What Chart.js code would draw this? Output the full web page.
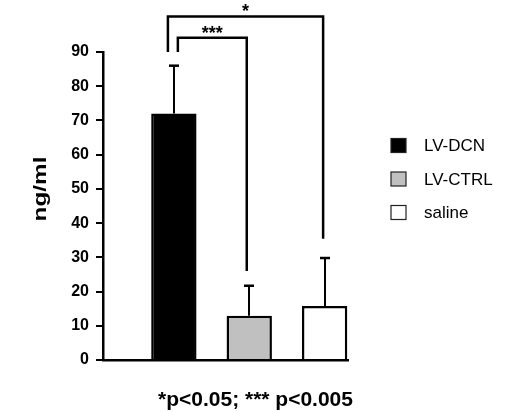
<!DOCTYPE html>
<html>
<head>
<meta charset="utf-8">
<script src="https://cdn.jsdelivr.net/npm/chart.js@4/dist/chart.umd.min.js"></script>
<style>
html,body{margin:0;padding:0;background:#ffffff;}
#wrap{width:520px;height:411px;}
</style>
</head>
<body>
<div id="wrap"><canvas id="c" width="520" height="411"></canvas></div>
<script>
// ---- data ----
const categories = ['LV-DCN', 'LV-CTRL', 'saline'];
const means = [72, 12.9, 15.8];
const errors = [14, 8.8, 14];
const yTicks = [0, 10, 20, 30, 40, 50, 60, 70, 80, 90];
const yTitle = 'ng/ml';
const footnote = '*p<0.05; *** p<0.005';
// significance comparisons (group indices) and their labels
const sigPairs = [[0, 1], [0, 2]];
const sigLabels = ['***', '*'];
const sigLevels = [94.2, 100.4];          // height of bracket (ng/ml)
const sigLegEnds = [[90, 26], [90, 35.4]]; // lower ends of the bracket legs (ng/ml)

// ---- styles ----
const fills = ['#000000', '#c0c0c0', '#ffffff'];
const FONT = "'Liberation Sans', Arial, Helvetica, sans-serif";
const sigXOffsets = [[0.053, -0.033], [-0.079, -0.02]]; // leg offsets from group centre (x units)

const annot = {
  id: 'annot',
  afterDatasetsDraw(chart) {
    const ctx = chart.ctx, xs = chart.scales.x, ys = chart.scales.y;
    ctx.save();
    ctx.strokeStyle = '#000';
    ctx.fillStyle = '#000';
    ctx.lineCap = 'butt';
    ctx.lineJoin = 'miter';
    // upper error bars
    means.forEach((m, i) => {
      const px = Math.round(xs.getPixelForValue(i));
      const y0 = ys.getPixelForValue(m);
      const y1 = ys.getPixelForValue(m + errors[i]);
      ctx.lineWidth = 2;
      ctx.beginPath(); ctx.moveTo(px, y0); ctx.lineTo(px, y1); ctx.stroke();
      ctx.lineWidth = 2.5;
      ctx.beginPath(); ctx.moveTo(px - 5, y1); ctx.lineTo(px + 5, y1); ctx.stroke();
    });
    // significance brackets
    sigPairs.forEach((p, k) => {
      const xa = xs.getPixelForValue(p[0] + sigXOffsets[k][0]);
      const xb = xs.getPixelForValue(p[1] + sigXOffsets[k][1]);
      const yt = ys.getPixelForValue(sigLevels[k]);
      const ya = ys.getPixelForValue(sigLegEnds[k][0]);
      const yb = ys.getPixelForValue(sigLegEnds[k][1]);
      ctx.lineWidth = 2.5;
      ctx.beginPath();
      ctx.moveTo(xa, ya); ctx.lineTo(xa, yt); ctx.lineTo(xb, yt); ctx.lineTo(xb, yb);
      ctx.stroke();
      ctx.font = 'bold 18px ' + FONT;
      ctx.textAlign = 'center';
      ctx.textBaseline = 'alphabetic';
      ctx.fillText(sigLabels[k], (xa + xb) / 2, yt + 1);
    });
    ctx.restore();
  },
  afterDraw(chart) {
    const ctx = chart.ctx;
    ctx.save();
    ctx.fillStyle = '#000';
    // y title (tall bold text)
    ctx.save();
    ctx.translate(40.5, 189);
    ctx.rotate(-Math.PI / 2);
    ctx.scale(1.35, 1.05);
    ctx.font = 'bold 18px ' + FONT;
    ctx.textAlign = 'center';
    ctx.textBaseline = 'middle';
    ctx.fillText(yTitle, 0, 0);
    ctx.restore();
    // footnote
    ctx.font = 'bold 21px ' + FONT;
    ctx.textAlign = 'center';
    ctx.textBaseline = 'alphabetic';
    ctx.fillText(footnote, 255.5, 406);
    // legend
    categories.forEach((c, i) => {
      const cy = 145.5 + i * 33.5;
      ctx.fillStyle = fills[i];
      ctx.fillRect(391, cy - 7, 15, 14);
      ctx.strokeStyle = '#222';
      ctx.lineWidth = 1.2;
      ctx.strokeRect(391, cy - 7, 15, 14);
      ctx.fillStyle = '#000';
      ctx.font = '17px ' + FONT;
      ctx.textAlign = 'left';
      ctx.textBaseline = 'middle';
      ctx.fillText(c, 424, cy + 1);
    });
    ctx.restore();
  }
};

new Chart(document.getElementById('c'), {
  type: 'bar',
  data: {
    datasets: [{
      label: 'ng/ml',
      data: means.map((v, i) => ({ x: i, y: v })),
      backgroundColor: fills,
      borderColor: '#000',
      borderWidth: 2.5,
      barPercentage: 0.64,
      categoryPercentage: 1
    }]
  },
  options: {
    responsive: false,
    animation: false,
    devicePixelRatio: 1,
    layout: { padding: { left: 0, top: 52, right: 172, bottom: 51 } },
    plugins: { legend: { display: false }, tooltip: { enabled: false }, title: { display: false } },
    scales: {
      x: {
        type: 'linear',
        min: -0.94,
        max: 2.31,
        offset: false,
        grid: { display: false, drawTicks: false },
        ticks: { display: false },
        border: { display: true, color: '#000', width: 2.5 },
        afterFit(s) { s.height = 0; s.paddingLeft = 0; s.paddingRight = 0; }
      },
      y: {
        min: 0,
        max: 90,
        afterBuildTicks(s) { s.ticks = yTicks.map(v => ({ value: v })); },
        grid: { drawOnChartArea: false, tickLength: 7, color: '#000', lineWidth: 2 },
        border: { display: true, color: '#000', width: 2.5 },
        ticks: { color: '#000', padding: 7, font: { family: FONT, weight: 'bold', size: 16 } },
        afterFit(s) { s.width = 103; s.paddingTop = 0; s.paddingBottom = 0; }
      }
    }
  },
  plugins: [annot]
});
</script>
</body>
</html>
